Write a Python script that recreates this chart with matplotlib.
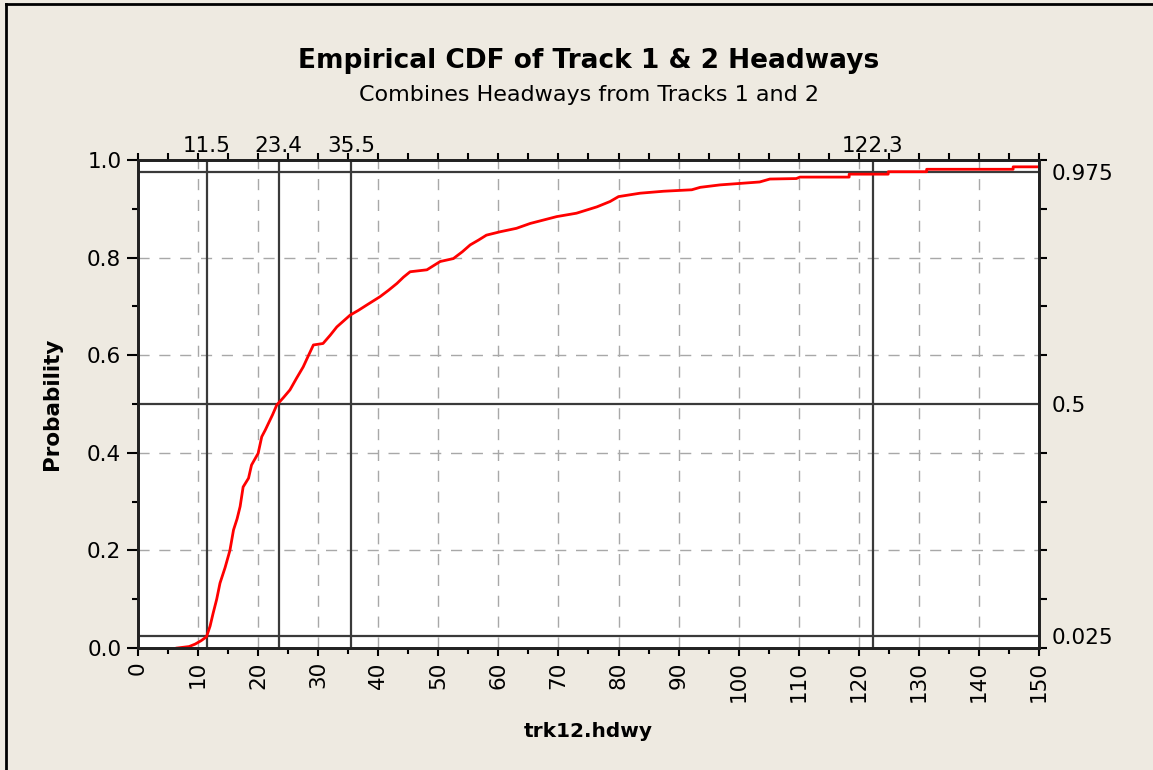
import numpy as np
import matplotlib.pyplot as plt
from matplotlib.ticker import MultipleLocator, FixedLocator

# empirical CDF (headway, probability)
hdwy = [6.5, 8.5, 9.5, 10.5, 11.4, 12.0, 12.5, 13.1, 13.65, 14.5, 15.3, 15.9,
        16.5, 17.0, 17.5, 18.4, 18.9, 20.0, 20.6, 21.2, 21.7, 22.4, 23.1, 24.2,
        25.3, 26.4, 27.5, 28.4, 29.2, 30.8, 32.0, 33.1, 34.2, 35.3, 36.7, 38.1,
        40.3, 41.7, 43.1, 44.2, 45.3, 48.1, 50.3, 52.5, 54.0, 55.3, 56.7, 58.0,
        60.3, 63.0, 65.3, 67.5, 69.7, 73.0, 76.4, 78.6, 80.0, 83.6, 87.5, 92.2,
        93.6, 96.9, 100.2, 103.5, 105.2, 109.6, 110.2, 118.4, 118.4, 124.9, 124.9,
        131.3, 131.3, 145.7, 145.7, 150]
prob = [0, 0.003, 0.008, 0.015, 0.023, 0.045, 0.071, 0.10, 0.133, 0.165, 0.20, 0.242,
        0.265, 0.29, 0.33, 0.348, 0.375, 0.399, 0.433, 0.447, 0.46, 0.478, 0.498, 0.513,
        0.529, 0.553, 0.576, 0.60, 0.621, 0.624, 0.641, 0.658, 0.670, 0.682, 0.692, 0.703,
        0.72, 0.733, 0.747, 0.760, 0.771, 0.775, 0.792, 0.798, 0.812, 0.826, 0.836, 0.846,
        0.853, 0.86, 0.870, 0.877, 0.884, 0.891, 0.904, 0.915, 0.925, 0.932, 0.936, 0.939,
        0.944, 0.949, 0.952, 0.955, 0.961, 0.962, 0.965, 0.965, 0.971, 0.971, 0.976,
        0.976, 0.981, 0.981, 0.986, 0.986]

q_x = [11.5, 23.4, 35.5, 122.3]
q_x_labels = ['11.5', '23.4', '35.5', '122.3']
q_p = [0.025, 0.5, 0.975]
q_p_labels = ['0.025', '0.5', '0.975']

bg = '#EEEAE1'
fs = 15.5
fig = plt.figure(figsize=(11.53, 7.70), dpi=100, facecolor=bg)
ax = fig.add_axes([0.1197, 0.1584, 0.7814, 0.6338])
ax.set_facecolor('white')

ax.plot(hdwy, prob, color='#FF0000', lw=2, zorder=4)
for x in q_x:
    ax.axvline(x, color='#3A3A3A', lw=1.6, zorder=3)
for p in q_p:
    ax.axhline(p, color='#3A3A3A', lw=1.6, zorder=3)

ax.set_xlim(0, 150)
ax.set_ylim(0, 1.0)
ax.xaxis.set_major_locator(MultipleLocator(10))
ax.xaxis.set_minor_locator(MultipleLocator(5))
ax.yaxis.set_major_locator(MultipleLocator(0.2))
ax.yaxis.set_minor_locator(MultipleLocator(0.1))
ax.yaxis.set_major_formatter(plt.FormatStrFormatter('%.1f'))
ax.grid(True, which='major', color='#A8A8A8', ls=(0, (8, 7)), lw=1)
ax.tick_params(axis='x', which='major', labelsize=fs, rotation=90, length=6, width=1.5, direction='out')
ax.tick_params(axis='y', which='major', labelsize=fs, length=8, width=1.5, direction='out', pad=4)
ax.tick_params(which='minor', length=4, width=1.5, direction='out')
for s in ax.spines.values():
    s.set_linewidth(1.8)
    s.set_color('#222222')

# top axis with quantile labels
axt = ax.twiny()
axt.set_xlim(0, 150)
axt.xaxis.set_major_locator(FixedLocator(q_x))
axt.set_xticklabels(q_x_labels, fontsize=fs)
axt.xaxis.set_minor_locator(MultipleLocator(5))
axt.tick_params(axis='x', which='major', length=0, pad=3)
axt.tick_params(axis='x', which='minor', length=5, width=1.5)

# right axis with probability levels
axr = ax.twinx()
axr.set_ylim(0, 1.0)
axr.yaxis.set_major_locator(FixedLocator(q_p))
axr.set_yticklabels(q_p_labels, fontsize=fs)
axr.yaxis.set_minor_locator(MultipleLocator(0.1))
axr.tick_params(axis='y', which='major', length=0, pad=9)
axr.tick_params(axis='y', which='minor', length=6, width=1.5)
for a in (axt, axr):
    for s in a.spines.values():
        s.set_linewidth(1.8)
        s.set_color('#222222')

ax.set_ylabel('Probability', fontsize=15.5, fontweight='bold', labelpad=18)
ax.set_xlabel('trk12.hdwy', fontsize=14.5, fontweight='bold', labelpad=14)
fig.text(0.5105, 0.921, 'Empirical CDF of Track 1 & 2 Headways', ha='center', va='center',
         fontsize=19, fontweight='bold')
fig.text(0.5105, 0.876, 'Combines Headways from Tracks 1 and 2', ha='center', va='center',
         fontsize=16)

# outer frame (top and left edges)
fig.add_artist(plt.Line2D([0.0052, 0.0052], [0, 0.995], color='black', lw=2, transform=fig.transFigure))
fig.add_artist(plt.Line2D([0.0052, 1], [0.995, 0.995], color='black', lw=2, transform=fig.transFigure))

fig.savefig('out.png', dpi=100, facecolor=bg)
